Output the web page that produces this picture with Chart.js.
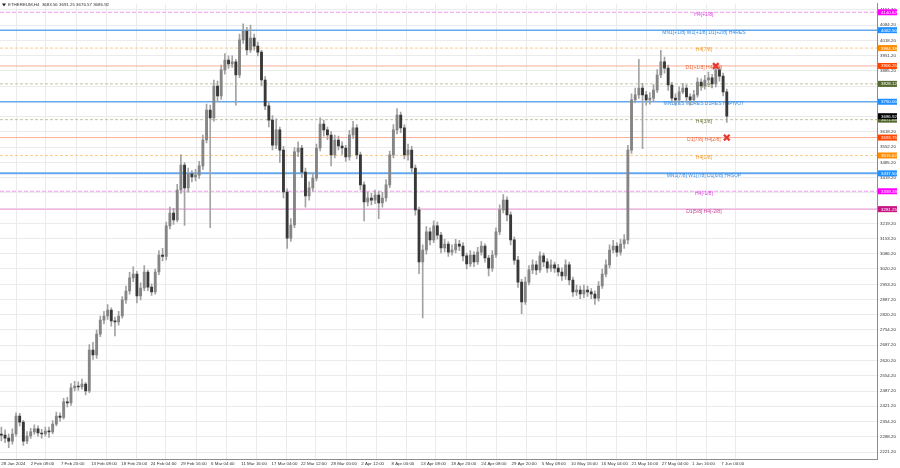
<!DOCTYPE html>
<html>
<head>
<meta charset="utf-8">
<title>ETHEREUM,H4</title>
<script src="https://cdn.jsdelivr.net/npm/chart.js@4/dist/chart.umd.min.js"></script>
<style>
  html, body { margin: 0; padding: 0; background: #fff; overflow: hidden; }
  canvas { display: block; }
</style>
</head>
<body>
<canvas id="chart" width="900" height="468"></canvas>
<script>
// ETHEREUM H4 chart with Murrey levels

const symbolName = 'ETHEREUM,H4';
const headerOHLC = [3683.56, 3691.25, 3676.57, 3686.92];

// one candle every 16 hours, counted from 28 Jan 2024 00:00
const candleStepHours = 16;

const opens = [
  2300, 2295, 2282, 2269, 2300, 2378, 2352, 2269, 2291, 2309,
  2322, 2304, 2300, 2313, 2309, 2343, 2378, 2372, 2440, 2435,
  2501, 2509, 2505, 2518, 2488, 2666, 2645, 2736, 2797, 2815,
  2841, 2793, 2789, 2815, 2885, 2924, 2981, 2998, 2902, 2937,
  3007, 2941, 2920, 3007, 3081, 3075, 3208, 3264, 3234, 3365,
  3474, 3374, 3435, 3422, 3430, 3470, 3583, 3714, 3679, 3819,
  3775, 3889, 3932, 3915, 3924, 3867, 4020, 4059, 3976, 4028,
  3993, 3967, 3845, 3732, 3670, 3561, 3627, 3539, 3356, 3155,
  3212, 3531, 3548, 3443, 3339, 3374, 3417, 3548, 3653, 3627,
  3605, 3518, 3583, 3557, 3548, 3509, 3605, 3636, 3518, 3387,
  3313, 3330, 3321, 3343, 3308, 3330, 3387, 3518, 3627, 3692,
  3636, 3518, 3539, 3461, 3278, 3051, 3103, 3182, 3147, 3208,
  3168, 3112, 3129, 3094, 3103, 3129, 3120, 3077, 3042, 3081,
  3051, 3094, 3120, 3068, 3024, 3081, 3182, 3278, 3321, 3256,
  3147, 3059, 2963, 2876, 2963, 3016, 3038, 3016, 3077, 3051,
  3024, 3038, 3024, 3007, 2990, 3038, 2972, 2920, 2928, 2911,
  2928, 2920, 2911, 2893, 2946, 2998, 3038, 3103, 3120, 3094,
  3129, 3147, 3539, 3758, 3780, 3810, 3780, 3758, 3766, 3801,
  3867, 3924, 3897, 3823, 3766, 3758, 3793, 3810, 3771, 3758,
  3780, 3836, 3819, 3845, 3854, 3828, 3889, 3862, 3793
];

const highs = [
  2330, 2318, 2300, 2322, 2392, 2390, 2360, 2310, 2325, 2340,
  2335, 2320, 2330, 2330, 2358, 2395, 2392, 2455, 2460, 2520,
  2530, 2528, 2540, 2525, 2690, 2700, 2755, 2815, 2835, 2865,
  2850, 2810, 2835, 2900, 2945, 3005, 3030, 3010, 2960, 3035,
  3015, 2955, 3020, 3100, 3110, 3225, 3290, 3285, 3390, 3520,
  3485, 3460, 3450, 3455, 3490, 3605, 3740, 3735, 3845, 3840,
  3910, 3960, 3950, 3950, 3935, 4045, 4090, 4075, 4085, 4045,
  4010, 3975, 3860, 3745, 3690, 3675, 3640, 3555, 3370, 3240,
  3550, 3575, 3560, 3460, 3400, 3440, 3565, 3680, 3670, 3640,
  3620, 3605, 3600, 3575, 3560, 3625, 3665, 3650, 3530, 3400,
  3355, 3350, 3365, 3360, 3355, 3410, 3535, 3650, 3720, 3705,
  3650, 3565, 3555, 3475, 3290, 3125, 3205, 3200, 3230, 3225,
  3180, 3150, 3140, 3125, 3150, 3145, 3135, 3090, 3100, 3095,
  3115, 3140, 3130, 3080, 3100, 3200, 3300, 3345, 3335, 3270,
  3160, 3075, 2975, 2985, 3035, 3060, 3055, 3095, 3090, 3065,
  3060, 3050, 3040, 3025, 3060, 3050, 2985, 2950, 2945, 2950,
  2945, 2935, 2925, 2965, 3020, 3060, 3125, 3145, 3135, 3150,
  3170, 3560, 3785, 3810, 3935, 3830, 3795, 3790, 3825, 3890,
  3975, 3945, 3910, 3835, 3785, 3815, 3830, 3825, 3785, 3800,
  3855, 3850, 3865, 3880, 3870, 3915, 3900, 3875, 3805
];

const lows = [
  2270, 2262, 2240, 2255, 2290, 2335, 2250, 2258, 2280, 2298,
  2290, 2282, 2290, 2285, 2300, 2335, 2355, 2365, 2418, 2425,
  2488, 2490, 2495, 2470, 2480, 2625, 2630, 2725, 2780, 2800,
  2770, 2728, 2775, 2805, 2870, 2910, 2965, 2872, 2885, 2925,
  2925, 2905, 2910, 2995, 3055, 3060, 3195, 3215, 3225, 3350,
  3210, 3355, 3400, 3405, 3415, 3455, 3570, 3200, 3665, 3750,
  3760, 3870, 3895, 3900, 3735, 3855, 4005, 3955, 3965, 3975,
  3950, 3820, 3715, 3640, 3540, 3545, 3485, 3330, 3110, 3140,
  3200, 3510, 3420, 3290, 3320, 3360, 3405, 3535, 3600, 3585,
  3470, 3505, 3540, 3520, 3490, 3495, 3590, 3500, 3365, 3230,
  3295, 3300, 3305, 3240, 3290, 3315, 3375, 3505, 3610, 3615,
  3500, 3495, 3440, 3255, 3000, 2806, 3085, 3125, 3135, 3150,
  3090, 3095, 3075, 3080, 3090, 3100, 3055, 3020, 3030, 3030,
  3040, 3080, 3050, 2990, 3010, 3070, 3170, 3265, 3230, 3125,
  3040, 2940, 2825, 2865, 2950, 3000, 2995, 3005, 3030, 3005,
  3010, 3005, 2990, 2970, 2975, 2950, 2900, 2905, 2890, 2895,
  2900, 2890, 2865, 2880, 2935, 2985, 3025, 3090, 3075, 3080,
  3110, 3130, 3525, 3745, 3765, 3545, 3735, 3740, 3750, 3790,
  3855, 3875, 3800, 3745, 3735, 3745, 3785, 3750, 3735, 3745,
  3770, 3800, 3805, 3830, 3810, 3815, 3840, 3775, 3660
];

const closes = [
  2295, 2282, 2269, 2300, 2378, 2352, 2269, 2291, 2309, 2322,
  2304, 2300, 2313, 2309, 2343, 2378, 2372, 2440, 2435, 2501,
  2509, 2505, 2518, 2488, 2666, 2645, 2736, 2797, 2815, 2841,
  2793, 2789, 2815, 2885, 2924, 2981, 2998, 2902, 2937, 3007,
  2941, 2920, 3007, 3081, 3075, 3208, 3264, 3234, 3365, 3474,
  3374, 3435, 3422, 3430, 3470, 3583, 3714, 3679, 3819, 3775,
  3889, 3932, 3915, 3924, 3867, 4020, 4059, 3976, 4028, 3993,
  3967, 3845, 3732, 3670, 3561, 3627, 3539, 3356, 3155, 3212,
  3531, 3548, 3443, 3339, 3374, 3417, 3548, 3653, 3627, 3605,
  3518, 3583, 3557, 3548, 3509, 3605, 3636, 3518, 3387, 3313,
  3330, 3321, 3343, 3308, 3330, 3387, 3518, 3627, 3692, 3636,
  3518, 3539, 3461, 3278, 3051, 3103, 3182, 3147, 3208, 3168,
  3112, 3129, 3094, 3103, 3129, 3120, 3077, 3042, 3081, 3051,
  3094, 3120, 3068, 3024, 3081, 3182, 3278, 3321, 3256, 3147,
  3059, 2963, 2876, 2963, 3016, 3038, 3016, 3077, 3051, 3024,
  3038, 3024, 3007, 2990, 3038, 2972, 2920, 2928, 2911, 2928,
  2920, 2911, 2893, 2946, 2998, 3038, 3103, 3120, 3094, 3129,
  3147, 3539, 3758, 3780, 3810, 3780, 3758, 3766, 3801, 3867,
  3924, 3897, 3823, 3766, 3758, 3793, 3810, 3771, 3758, 3780,
  3836, 3819, 3845, 3854, 3828, 3889, 3862, 3793, 3686.92
];

// Murrey levels drawn across the chart
const levels = [4140.62, 4062.50, 3984.38, 3906.25, 3828.12, 3750.00,
                3671.88, 3593.75, 3515.62, 3437.50, 3359.38, 3281.25];
const levelNames = [
  'H4[+1/8]',
  'MN1[+1/8] W1[+1/8] D1[+2/8] H4RES',
  'H4[7/8]',
  'D1[+1/8] H4[6/8]',
  'H4[5/8]',
  'MN1RES W1RES D1RES H4PIVOT',
  'H4[3/8]',
  'D1[7/8] H4[2/8]',
  'H4[1/8]',
  'MN1[7/8] W1[7/8] D1[6/8] H4SUP',
  'H4[-1/8]',
  'D1[5/8] H4[-2/8]'
];

// red crosses near the last candles
const markerHours = [3120, 3168];
const markerPrices = [3906.25, 3593.75];

// axes
const priceTicks = [2221.2, 2288.2, 2354.2, 2421.2, 2487.2, 2554.2, 2620.2, 2687.2,
  2754.2, 2820.2, 2887.2, 2953.2, 3020.2, 3086.2, 3153.2, 3219.2, 3286.2, 3352.2,
  3419.2, 3485.2, 3552.2, 3618.2, 3685.2, 3752.2, 3818.2, 3885.2, 3951.2, 4018.2,
  4084.2, 4151.2];
const timeTickLabels = ['28 Jan 2024', '2 Feb 08:00', '7 Feb 20:00', '13 Feb 08:00',
  '18 Feb 20:00', '24 Feb 04:00', '29 Feb 16:00', '6 Mar 04:00', '11 Mar 16:00',
  '17 Mar 04:00', '22 Mar 12:00', '28 Mar 00:00', '2 Apr 12:00', '8 Apr 00:00',
  '13 Apr 08:00', '18 Apr 20:00', '24 Apr 08:00', '29 Apr 20:00', '5 May 08:00',
  '10 May 16:00', '16 May 04:00', '21 May 16:00', '27 May 04:00', '1 Jun 16:00',
  '7 Jun 00:00'];
const timeTickHours = [0, 128, 260, 392, 524, 652, 784, 916, 1048, 1180, 1308, 1440,
  1572, 1704, 1832, 1964, 2096, 2228, 2360, 2488, 2620, 2752, 2884, 3016, 3144];

// styles
const X_MIN = -6, X_MAX = 3824;
const Y_MIN = 2190.7, Y_MAX = 4178.3;
const FONT = '"Liberation Sans", Arial, sans-serif';
const lineColors = ['#f39af3', '#64a9ee', '#fccb8e', '#f8b096', '#c6c2a2', '#64a9ee',
                    '#c6c2a2', '#f8b096', '#fccb8e', '#64a9ee', '#f39af3', '#f2b6e3'];
const lineDashes = [[4, 2], [], [3, 2], [], [3, 2], [], [3, 2], [], [3, 2], [], [4, 2], []];
const lineWidths = [1, 1.5, 1, 1, 1, 1.5, 1, 1, 1, 2, 1, 1.5];
const textColors = ['#e03ce0', '#3b8de2', '#f39a2c', '#f0653a', '#6e7a3a', '#3b8de2',
                    '#6e7a3a', '#f0653a', '#f39a2c', '#3b8de2', '#e03ce0', '#c8409c'];
const boxColors = ['#ff00ff', '#1e90ff', '#ff8c00', '#ff4500', '#556b2f', '#1e90ff',
                   '#556b2f', '#ff4500', '#ff8c00', '#1e90ff', '#ff00ff', '#c71585'];
const levelTextHour = 3068;

const candleHours = closes.map((c, i) => i * candleStepHours);

const levelDatasets = levels.map((v, i) => ({
    type: 'line',
    data: [{ x: X_MIN, y: v }, { x: X_MAX, y: v }],
    borderColor: lineColors[i],
    borderWidth: lineWidths[i],
    borderDash: lineDashes[i],
    pointRadius: 0,
    order: 3
}));

const wickDataset = {
    type: 'bar',
    data: candleHours.map((h, i) => ({ x: h, y: [lows[i], highs[i]] })),
    backgroundColor: '#a3a3a3',
    barThickness: 1,
    grouped: false,
    order: 2
};

const bodyDataset = {
    type: 'bar',
    data: candleHours.map((h, i) => ({ x: h, y: [opens[i], closes[i]] })),
    backgroundColor: closes.map((c, i) => c >= opens[i] ? '#858585' : '#383838'),
    barThickness: 2.2,
    minBarLength: 1,
    grouped: false,
    order: 1
};

const markerDataset = {
    type: 'scatter',
    data: markerHours.map((h, i) => ({ x: h, y: markerPrices[i] })),
    pointStyle: 'crossRot',
    pointRadius: 4,
    pointBorderWidth: 2.2,
    borderColor: '#e8372c',
    pointBorderColor: '#e8372c',
    backgroundColor: '#e8372c',
    order: 0
};

const wickIndex = levelDatasets.length;

const overlay = {
    id: 'overlay',
    beforeDatasetDraw(chart, args) {
        if (args.index !== wickIndex) return;
        const { ctx, scales: { x, y } } = chart;
        ctx.save();
        ctx.font = '5px ' + FONT;
        ctx.textAlign = 'center';
        ctx.textBaseline = 'middle';
        const cx = x.getPixelForValue(levelTextHour);
        levels.forEach((v, i) => {
            ctx.fillStyle = textColors[i];
            ctx.fillText(levelNames[i], cx, y.getPixelForValue(v) + 2);
        });
        ctx.restore();
    },
    afterDraw(chart) {
        const { ctx, chartArea, scales: { y } } = chart;
        ctx.save();
        // price boxes on the right axis
        ctx.font = '4.4px ' + FONT;
        ctx.textAlign = 'left';
        ctx.textBaseline = 'middle';
        const boxLeft = chartArea.right + 1;
        const boxes = levels.map((v, i) => ({ v: v, c: boxColors[i] }));
        boxes.push({ v: closes[closes.length - 1], c: '#000000' });
        boxes.forEach(b => {
            const py = y.getPixelForValue(b.v);
            ctx.fillStyle = b.c;
            ctx.fillRect(boxLeft, py - 3, 19, 6);
            ctx.fillStyle = '#ffffff';
            ctx.fillText(b.v.toFixed(2), boxLeft + 3, py + 0.3);
        });
        // title
        ctx.fillStyle = '#222';
        ctx.beginPath();
        ctx.moveTo(2, 3.5);
        ctx.lineTo(6, 3.5);
        ctx.lineTo(4, 6.5);
        ctx.closePath();
        ctx.fill();
        ctx.fillStyle = '#333';
        ctx.fillText(symbolName + '  ' + headerOHLC.map(v => v.toFixed(2)).join(' '), 8, 5);
        ctx.restore();
    }
};

new Chart(document.getElementById('chart'), {
    type: 'bar',
    data: { datasets: [...levelDatasets, wickDataset, bodyDataset, markerDataset] },
    options: {
        responsive: false,
        animation: false,
        devicePixelRatio: 1,
        layout: { padding: 0, autoPadding: false },
        plugins: { legend: { display: false }, tooltip: { enabled: false } },
        scales: {
            x: {
                type: 'linear',
                min: X_MIN,
                max: X_MAX,
                offset: false,
                grid: { color: '#ebebeb', tickLength: 2 },
                border: { color: '#8c8c8c' },
                ticks: {
                    align: 'start',
                    autoSkip: false,
                    maxRotation: 0,
                    padding: 0,
                    color: '#333',
                    font: { family: FONT, size: 4.4 },
                    callback: (v, i) => timeTickLabels[i]
                },
                afterBuildTicks: s => { s.ticks = timeTickHours.map(v => ({ value: v })); },
                afterFit: s => { s.height = 9; }
            },
            y: {
                position: 'right',
                min: Y_MIN,
                max: Y_MAX,
                grid: { color: '#ebebeb', tickLength: 2 },
                border: { color: '#8c8c8c' },
                ticks: {
                    padding: 1,
                    color: '#333',
                    font: { family: FONT, size: 4.4 },
                    callback: v => v.toFixed(2)
                },
                afterBuildTicks: s => { s.ticks = priceTicks.map(v => ({ value: v })); },
                afterFit: s => { s.width = 23; }
            }
        }
    },
    plugins: [overlay]
});
</script>
</body>
</html>
